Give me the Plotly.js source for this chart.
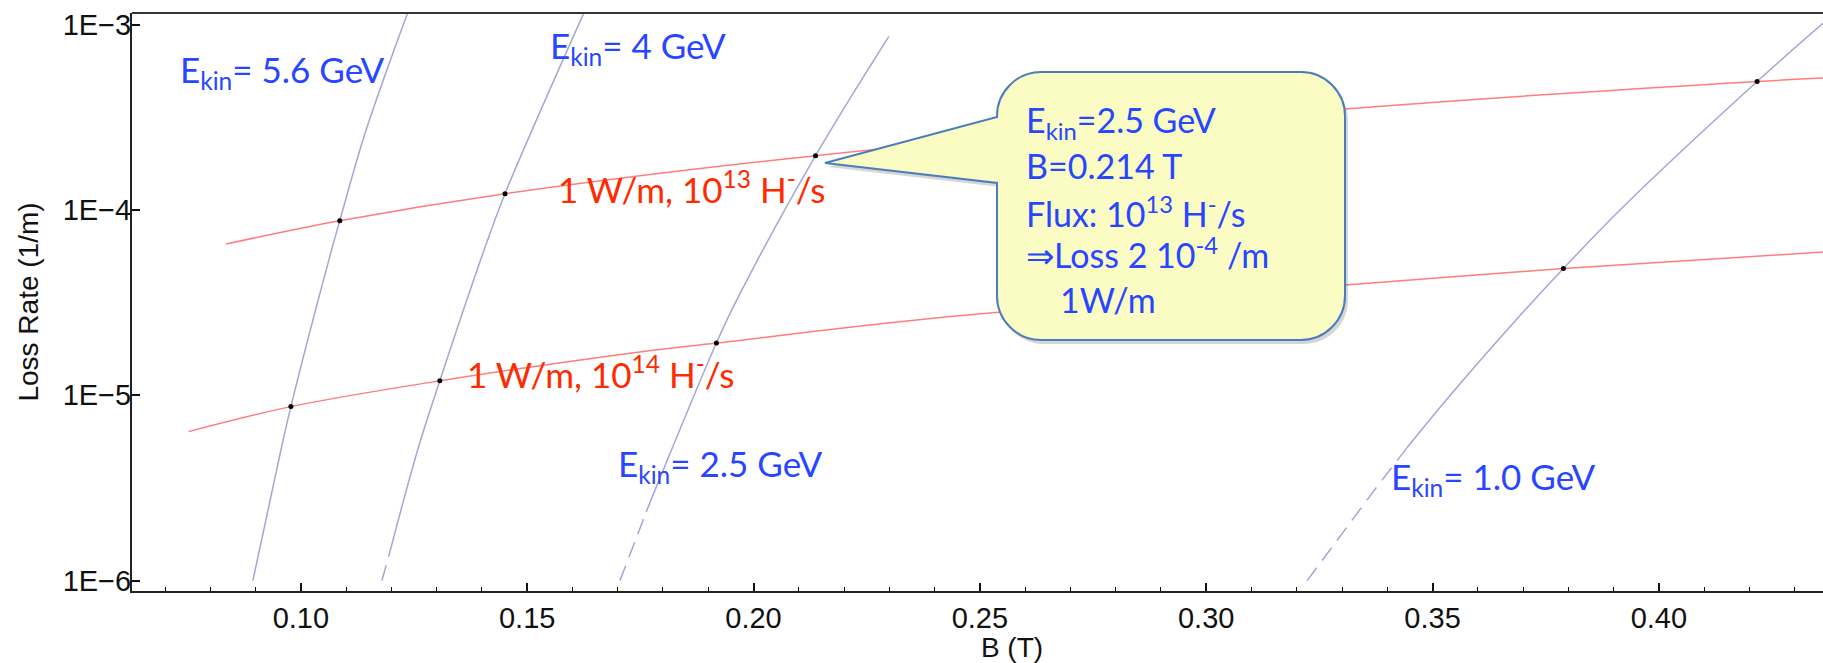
<!DOCTYPE html>
<html>
<head>
<meta charset="utf-8">
<script src="https://cdn.plot.ly/plotly-3.0.1.min.js"></script>
<style>
  html, body { margin: 0; padding: 0; background: #ffffff; overflow: hidden; }
  #wrap { width: 1823px; height: 663px; overflow: hidden; position: relative; }
  #plot { width: 1892px; height: 663px; }
</style>
</head>
<body>
<div id="wrap"><div id="plot"></div></div>
<script>
// ---------------- data ----------------
// Iso-energy curves: loss rate vs B
const b56   = [0.0894, 0.0956, 0.0978, 0.1068, 0.1086, 0.1142, 0.1236];
const loss56 = [1.0e-6, 5.07e-6, 8.69e-6, 6.10e-5, 8.75e-5, 2.60e-4, 1.16e-3];

const b4    = [0.1179, 0.1199, 0.1258, 0.1307, 0.1405, 0.1451, 0.1624];
const loss4  = [1.0e-6, 1.5e-6, 5.07e-6, 1.197e-5, 6.10e-5, 1.224e-4, 1.14e-3];

const b25   = [0.1705, 0.1763, 0.1805, 0.1918, 0.1963, 0.2137, 0.2299];
const loss25 = [1.0e-6, 2.35e-6, 4.2e-6, 1.914e-5, 3.27e-5, 1.963e-4, 8.65e-4];

const b10   = [0.3223, 0.3375, 0.3443, 0.3539, 0.3682, 0.3789, 0.3918, 0.4217, 0.4363];
const loss10 = [1.0e-6, 3.16e-6, 5.19e-6, 1.0e-5, 2.51e-5, 4.83e-5, 1.023e-4, 4.94e-4, 1.02e-3];

// 1 W/m curves
const bRed13    = [0.0835, 0.1086, 0.1451, 0.2137, 0.3307, 0.4217, 0.4363];
const lossRed13 = [6.55e-5, 8.75e-5, 1.224e-4, 1.963e-4, 3.51e-4, 4.94e-4, 5.15e-4];

const bRed14    = [0.0752, 0.0978, 0.1307, 0.1728, 0.1918, 0.2435, 0.3307, 0.3789, 0.4363];
const lossRed14 = [6.37e-6, 8.69e-6, 1.197e-5, 1.686e-5, 1.914e-5, 2.66e-5, 3.94e-5, 4.83e-5, 5.93e-5];

// Intersection points
const dotB    = [0.0978, 0.1086, 0.1307, 0.1451, 0.1918, 0.2137, 0.3789, 0.4217];
const dotLoss = [8.69e-6, 8.75e-5, 1.197e-5, 1.224e-4, 1.914e-5, 1.963e-4, 4.83e-5, 4.94e-4];

// Axis ticks
const xTickVals = [0.10, 0.15, 0.20, 0.25, 0.30, 0.35, 0.40];
const xTickText = ['0.10', '0.15', '0.20', '0.25', '0.30', '0.35', '0.40'];
const yTickVals = [1e-6, 1e-5, 1e-4, 1e-3];
const yTickText = ['1E\u22126', '1E\u22125', '1E\u22124', '1E\u22123'];

// ---------------- styling / layout ----------------
const BLUE_LINE = 'rgb(165,165,215)';
const RED_LINE = 'rgb(255,125,125)';
const BLUE_TXT = '#2846ff';
const RED_TXT = '#ff2a00';

function solid(x, y, color, from) {
  return { x: x.slice(from), y: y.slice(from), mode: 'lines', type: 'scatter',
           line: { color: color, width: 1.5, shape: 'spline', smoothing: 1 },
           hoverinfo: 'skip', showlegend: false };
}
function dashed(x, y, color, to) {
  return { x: x.slice(0, to + 1), y: y.slice(0, to + 1), mode: 'lines', type: 'scatter',
           line: { color: color, width: 1.5, dash: '16px,9px' },
           hoverinfo: 'skip', showlegend: false };
}

const traces = [
  solid(bRed13, lossRed13, RED_LINE, 0),
  solid(bRed14, lossRed14, RED_LINE, 0),
  solid(b56, loss56, BLUE_LINE, 0),
  dashed(b4, loss4, BLUE_LINE, 1),   solid(b4, loss4, BLUE_LINE, 1),
  dashed(b25, loss25, BLUE_LINE, 1), solid(b25, loss25, BLUE_LINE, 1),
  dashed(b10, loss10, BLUE_LINE, 2), solid(b10, loss10, BLUE_LINE, 2),
  { x: dotB, y: dotLoss, mode: 'markers', type: 'scatter',
    marker: { color: '#000', size: 5 }, hoverinfo: 'skip', showlegend: false }
];

// pixel -> paper helpers (plot area: x 132..1892 (visible to 1823), y 13..591)
const PL = 132, PW = 1760, PB = 591, PH = 578;
function px(x) { return (x - PL) / PW; }
function py(y) { return (PB - y) / PH; }
function P(x, y) { return px(x).toFixed(5) + ',' + py(y).toFixed(5); }

function calloutPath(dx, dy) {
  const x0 = 997 + dx, x1 = 1345 + dx, y0 = 72 + dy, y1 = 340 + dy, r = 44, k = 0.45;
  const tipX = 825 + dx, tipY = 163 + dy;
  return 'M' + P(tipX, tipY) +
    ' L' + P(x0, 117 + dy) +
    ' L' + P(x0, y0 + r) +
    ' C' + P(x0, y0 + r * k) + ' ' + P(x0 + r * k, y0) + ' ' + P(x0 + r, y0) +
    ' L' + P(x1 - r, y0) +
    ' C' + P(x1 - r * k, y0) + ' ' + P(x1, y0 + r * k) + ' ' + P(x1, y0 + r) +
    ' L' + P(x1, y1 - r) +
    ' C' + P(x1, y1 - r * k) + ' ' + P(x1 - r * k, y1) + ' ' + P(x1 - r, y1) +
    ' L' + P(x0 + r, y1) +
    ' C' + P(x0 + r * k, y1) + ' ' + P(x0, y1 - r * k) + ' ' + P(x0, y1 - r) +
    ' L' + P(x0, 183 + dy) + ' Z';
}

const TXT_FONT = 'Lato, "Open Sans", "Noto Sans", sans-serif';
function lbl(text, xPix, yPix, color, size) {
  return { text: text, xref: 'paper', yref: 'paper', x: px(xPix), y: py(yPix),
           xanchor: 'left', yanchor: 'middle', showarrow: false,
           font: { family: TXT_FONT, size: size, color: color } };
}

const TICK_FONT = { family: 'Liberation Sans, Arial, sans-serif', size: 29, color: '#111' };
const TITLE_FONT = { family: 'Liberation Sans, Arial, sans-serif', size: 28, color: '#111' };

const layout = {
  width: 1892, height: 663,
  margin: { l: 132, r: 0, t: 13, b: 72, pad: 0 },
  paper_bgcolor: '#ffffff', plot_bgcolor: '#ffffff',
  showlegend: false,
  xaxis: {
    range: [0.0627, 0.4515], type: 'linear',
    tickmode: 'array', tickvals: xTickVals, ticktext: xTickText,
    ticks: 'inside', ticklen: 8, tickwidth: 1.5, tickcolor: '#111',
    minor: { tickmode: 'linear', tick0: 0, dtick: 0.01, ticks: 'inside', ticklen: 4, tickwidth: 1.3, tickcolor: '#111', showgrid: false },
    showline: true, linecolor: '#222', linewidth: 2,
    showgrid: false, zeroline: false,
    tickfont: TICK_FONT,
    title: { text: 'B (T)', font: TITLE_FONT, standoff: 8 }
  },
  yaxis: {
    type: 'log', range: [-6.056, -2.937],
    tickmode: 'array', tickvals: yTickVals, ticktext: yTickText,
    ticks: 'inside', ticklen: 8, tickwidth: 1.5, tickcolor: '#111',
    ticklabelstandoff: -7,
    showline: true, linecolor: '#222', linewidth: 2,
    showgrid: false, zeroline: false,
    automargin: true,
    tickfont: TICK_FONT,
    title: { text: 'Loss Rate (1/m)', font: TITLE_FONT, standoff: 16 }
  },
  shapes: [
    { type: 'line', xref: 'paper', yref: 'paper', x0: 0, x1: 1, y0: 1, y1: 1,
      line: { color: '#333', width: 2 }, layer: 'above' },
    { type: 'path', xref: 'paper', yref: 'paper', path: calloutPath(3, 4),
      fillcolor: 'rgba(0,0,0,0.16)', line: { width: 0 }, layer: 'above' },
    { type: 'path', xref: 'paper', yref: 'paper', path: calloutPath(0, 0),
      fillcolor: '#fafcc4', line: { color: '#4a7ebb', width: 2 }, layer: 'above' }
  ],
  annotations: [
    lbl('E<sub>kin</sub>= 5.6 GeV', 178, 71, BLUE_TXT, 35),
    lbl('E<sub>kin</sub>= 4 GeV', 548, 47, BLUE_TXT, 35),
    lbl('1 W/m, 10<sup>13</sup> H<sup>-</sup>/s', 556, 187, RED_TXT, 35),
    lbl('1 W/m, 10<sup>14</sup> H<sup>-</sup>/s', 465, 372, RED_TXT, 35),
    lbl('E<sub>kin</sub>= 2.5 GeV', 616, 465, BLUE_TXT, 35),
    lbl('E<sub>kin</sub>= 1.0 GeV', 1389, 478, BLUE_TXT, 35),
    lbl('E<sub>kin</sub>=2.5 GeV', 1024, 122, BLUE_TXT, 34),
    lbl('B=0.214 T', 1024, 166, BLUE_TXT, 34),
    lbl('Flux: 10<sup>13</sup> H<sup>-</sup>/s', 1024, 212, BLUE_TXT, 34),
    lbl('\u21D2Loss 2 10<sup>-4</sup> /m', 1024, 253, BLUE_TXT, 34),
    lbl('1W/m', 1058, 300, BLUE_TXT, 34)
  ]
};

Plotly.newPlot('plot', traces, layout, { displayModeBar: false });
</script>
</body>
</html>
